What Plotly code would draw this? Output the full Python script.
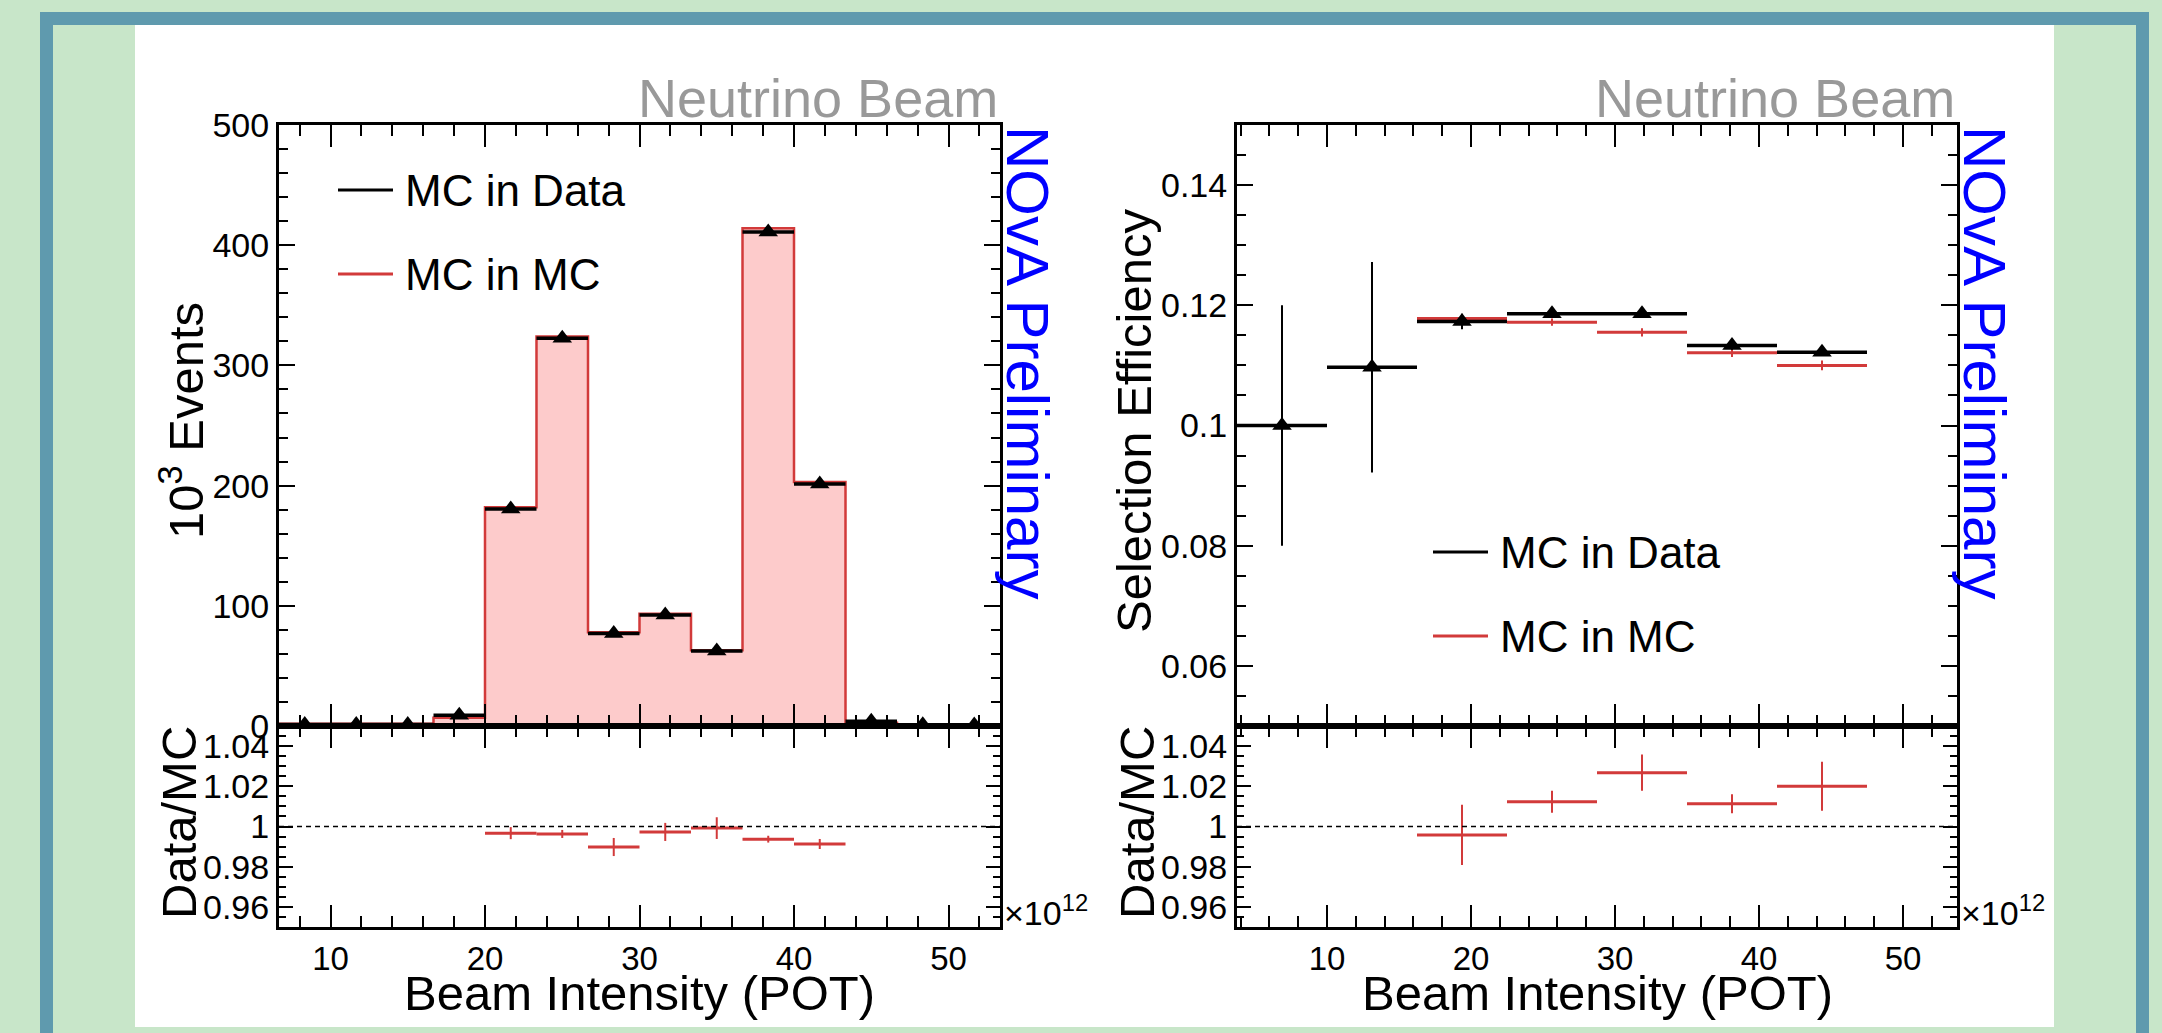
import plotly.graph_objects as go

W, H = 2162, 1033
FONT = "Liberation Sans, Arial, sans-serif"
RED = "#d23a3a"
PINK = "#fdcbcb"
GREEN_BG = "#c8e6c9"
BORDER = "#5f9aae"

# ---- left panel: event counts (10^3) per beam intensity bin (x10^12 POT)
edges_left = [6.667, 10, 13.333, 16.667, 20, 23.333, 26.667, 30, 33.333,
              36.667, 40, 43.333, 46.667, 50, 53.333]
mc_in_mc_left = [1.8, 1.8, 1.8, 6.8, 182, 324, 78, 93.3, 63, 414, 203, 2.8, 1.5, 1.5]
mc_in_data_left = [1.2, 1.2, 1.2, 9, 180.5, 322.5, 77, 92.3, 62.5, 411, 201.3, 4, 1, 0.8]
ratio_bins_left = [4, 5, 6, 7, 8, 9, 10]
ratio_left = [0.9967, 0.9963, 0.9898, 0.9973, 0.9992, 0.9937, 0.9913]
ratio_err_left = [0.003, 0.002, 0.0045, 0.0045, 0.0054, 0.0017, 0.0025]

# ---- right panel: selection efficiency per beam intensity bin
edges_right = [3.75, 10, 16.25, 22.5, 28.75, 35, 41.25, 47.5, 53.75]
eff_data_bins = [0, 1, 2, 3, 4, 5, 6]
eff_data = [0.1, 0.1097, 0.1173, 0.1186, 0.1186, 0.1133, 0.1122]
eff_data_err = [0.02, 0.0175, 0.0013, 0.0005, 0.0005, 0.0007, 0.0005]
eff_mc_bins = [2, 3, 4, 5, 6]
eff_mc = [0.1178, 0.1172, 0.1155, 0.1121, 0.1100]
eff_mc_err = [0.0007, 0.0006, 0.0007, 0.0007, 0.0008]
ratio_right = [0.9958, 1.0123, 1.0268, 1.0113, 1.0200]
ratio_err_right = [0.015, 0.0055, 0.009, 0.0047, 0.0122]

legend_names = ["MC in Data", "MC in MC"]
x_title = "Beam Intensity (POT)"
label_tag = "Neutrino Beam"
prelim = "NOvA Preliminary"


def centers(edges, idx):
    return [(edges[i] + edges[i + 1]) / 2 for i in idx]


def halfw(edges, idx):
    return [(edges[i + 1] - edges[i]) / 2 for i in idx]


def px(x):
    return x / W


def py(y):
    return 1 - y / H


all_left = list(range(len(mc_in_mc_left)))

fig = go.Figure()

# left upper: MC-in-MC histogram
fig.add_trace(go.Scatter(
    x=edges_left, y=mc_in_mc_left + [mc_in_mc_left[-1]],
    mode="lines", line_shape="hv", fill="tozeroy", fillcolor=PINK,
    line=dict(color=RED, width=2.5), xaxis="x", yaxis="y", showlegend=False,
))
# left upper: MC-in-Data points
fig.add_trace(go.Scatter(
    x=centers(edges_left, all_left), y=mc_in_data_left, mode="markers",
    marker=dict(symbol="triangle-up", size=17, color="black"),
    error_x=dict(type="data", array=halfw(edges_left, all_left), width=0,
                 thickness=3.5, color="black"),
    xaxis="x", yaxis="y", showlegend=False,
))
# left ratio
fig.add_trace(go.Scatter(
    x=centers(edges_left, ratio_bins_left), y=ratio_left, mode="markers",
    marker=dict(size=1, color=RED),
    error_x=dict(type="data", array=halfw(edges_left, ratio_bins_left), width=0,
                 thickness=3, color=RED),
    error_y=dict(type="data", array=ratio_err_left, width=0, thickness=2, color=RED),
    xaxis="x2", yaxis="y2", showlegend=False,
))

# right upper: MC in MC
fig.add_trace(go.Scatter(
    x=centers(edges_right, eff_mc_bins), y=eff_mc, mode="markers",
    marker=dict(size=1, color=RED),
    error_x=dict(type="data", array=halfw(edges_right, eff_mc_bins), width=0,
                 thickness=3, color=RED),
    error_y=dict(type="data", array=eff_mc_err, width=0, thickness=2, color=RED),
    xaxis="x3", yaxis="y3", showlegend=False,
))
# right upper: MC in Data
fig.add_trace(go.Scatter(
    x=centers(edges_right, eff_data_bins), y=eff_data, mode="markers",
    marker=dict(symbol="triangle-up", size=17, color="black"),
    error_x=dict(type="data", array=halfw(edges_right, eff_data_bins), width=0,
                 thickness=3.5, color="black"),
    error_y=dict(type="data", array=eff_data_err, width=0, thickness=2, color="black"),
    xaxis="x3", yaxis="y3", showlegend=False,
))
# right ratio
fig.add_trace(go.Scatter(
    x=centers(edges_right, eff_mc_bins), y=ratio_right, mode="markers",
    marker=dict(size=1, color=RED),
    error_x=dict(type="data", array=halfw(edges_right, eff_mc_bins), width=0,
                 thickness=3, color=RED),
    error_y=dict(type="data", array=ratio_err_right, width=0, thickness=2, color=RED),
    xaxis="x4", yaxis="y4", showlegend=False,
))

# ---- axes
dom_left = [px(279), px(1000)]
dom_right = [px(1237), px(1957)]
dom_up = [py(726), py(125)]
dom_low = [py(927), py(726)]

base = dict(showline=True, linecolor="black", linewidth=3, mirror="allticks",
            ticks="inside", tickcolor="black", tickwidth=2, showgrid=False,
            zeroline=False, tickfont=dict(family=FONT, size=34, color="black"))


def xax(domain, rng, anchor, labels):
    d = dict(base)
    d.update(domain=domain, range=rng, anchor=anchor, tick0=0, dtick=10, ticklen=22,
             showticklabels=labels,
             minor=dict(ticks="inside", dtick=2, tick0=0, ticklen=11,
                        tickcolor="black", tickwidth=1.5, showgrid=False),
             tickfont=dict(family=FONT, size=33, color="black"))
    return d


def yax(domain, rng, anchor, tick0, dtick, mdtick, tlen, mlen):
    d = dict(base)
    d.update(domain=domain, range=rng, anchor=anchor, tick0=tick0, dtick=dtick,
             ticklen=tlen,
             minor=dict(ticks="inside", dtick=mdtick, tick0=tick0, ticklen=mlen,
                        tickcolor="black", tickwidth=1.5, showgrid=False))
    return d


fig.update_layout(
    xaxis=xax(dom_left, [edges_left[0], edges_left[-1]], "y", False),
    yaxis=yax(dom_up, [0, 500], "x", 0, 100, 20, 16, 9),
    xaxis2=xax(dom_left, [edges_left[0], edges_left[-1]], "y2", True),
    yaxis2=yax(dom_low, [0.95, 1.05], "x2", 1, 0.02, 0.005, 14, 7),
    xaxis3=xax(dom_right, [edges_right[0], edges_right[-1]], "y3", False),
    yaxis3=yax(dom_up, [0.05, 0.15], "x3", 0, 0.02, 0.005, 16, 9),
    xaxis4=xax(dom_right, [edges_right[0], edges_right[-1]], "y4", True),
    yaxis4=yax(dom_low, [0.95, 1.05], "x4", 1, 0.02, 0.005, 14, 7),
)

# ---- background frame
shapes = [
    dict(type="rect", xref="paper", yref="paper", x0=px(40), x1=px(2149), y0=py(25), y1=py(12),
         fillcolor=BORDER, line_width=0, layer="below"),
    dict(type="rect", xref="paper", yref="paper", x0=px(40), x1=px(53), y0=0, y1=py(12),
         fillcolor=BORDER, line_width=0, layer="below"),
    dict(type="rect", xref="paper", yref="paper", x0=px(2136), x1=px(2149), y0=0, y1=py(12),
         fillcolor=BORDER, line_width=0, layer="below"),
    dict(type="rect", xref="paper", yref="paper", x0=px(135), x1=px(2054), y0=py(1027), y1=py(25),
         fillcolor="white", line_width=0, layer="below"),
]
for xa, ya in [("x2", "y2"), ("x4", "y4")]:
    shapes.append(dict(type="line", xref=f"{xa} domain", yref=ya, x0=0, x1=1, y0=1, y1=1,
                       line=dict(color="black", width=1.5, dash="5px,4px")))

annotations = []


def note(text, x, y, size, color="black", angle=0, xanchor="center", yanchor="middle"):
    annotations.append(dict(text=text, x=px(x), y=py(y), xref="paper", yref="paper",
                            showarrow=False, textangle=angle, xanchor=xanchor,
                            yanchor=yanchor, font=dict(family=FONT, size=size, color=color)))


# legends
for lx, ly, tx in [(338, 190, 403), (1433, 552, 1498)]:
    for k, (name, col) in enumerate(zip(legend_names, ["black", RED])):
        yy = ly + k * 84
        shapes.append(dict(type="line", xref="paper", yref="paper", x0=px(lx), x1=px(lx + 55),
                           y0=py(yy), y1=py(yy), line=dict(color=col, width=3)))
        note(name, tx, yy, 44, xanchor="left")

for fl, fr in [(279, 1000), (1237, 1957)]:
    note(label_tag, fr, 98, 54, color="#999999", xanchor="right")
    note(prelim, fr + 28, 362, 60, color="blue", angle=90)
    note(x_title, (fl + fr) / 2, 993, 49)
    note("×10<sup>12</sup>", fr + 2, 934, 34, xanchor="left", yanchor="bottom")
    note("Data/MC", fl - 100, 823, 49, angle=-90)

note("10<sup>3</sup> Events", 182, 421, 49, angle=-90)
note("Selection Efficiency", 1134, 421, 49, angle=-90)

fig.update_layout(
    width=W, height=H, autosize=False,
    margin=dict(l=0, r=0, t=0, b=0, pad=0, autoexpand=False),
    paper_bgcolor=GREEN_BG, plot_bgcolor="rgba(0,0,0,0)",
    shapes=shapes, annotations=annotations, showlegend=False,
    font=dict(family=FONT),
)

fig.write_html(
    "out.html",
    config={"displayModeBar": False},
    post_script="document.body.style.margin='0';document.body.style.overflow='hidden';",
)
